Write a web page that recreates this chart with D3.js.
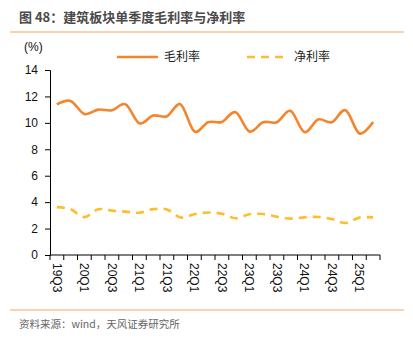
<!DOCTYPE html>
<html>
<head>
<meta charset="utf-8">
<script src="https://cdn.jsdelivr.net/npm/d3@7"></script>
<style>
  body { margin: 0; background: #fff; }
  svg { display: block; font-family: "Liberation Sans", Arial, sans-serif; }
  .cjk { font-family: "Noto Sans CJK SC", sans-serif; }
</style>
</head>
<body>
<div id="chart"></div>
<script>
// quarters 19Q3 .. 25Q2
var quarters = ['19Q3', '19Q4', '20Q1', '20Q2', '20Q3', '20Q4', '21Q1', '21Q2',
    '21Q3', '21Q4', '22Q1', '22Q2', '22Q3', '22Q4', '23Q1', '23Q2',
    '23Q3', '23Q4', '24Q1', '24Q2', '24Q3', '24Q4', '25Q1', '25Q2'];

// 毛利率 (%)
var grossMargin = [11.4, 11.65, 10.67, 11.0, 10.95, 11.4, 9.97, 10.55,
    10.5, 11.4, 9.35, 10.05, 10.07, 10.8, 9.35, 10.05,
    10.05, 10.9, 9.3, 10.25, 10.05, 10.95, 9.2, 10.07];

// 净利率 (%)
var netMargin = [3.62, 3.46, 2.87, 3.46, 3.36, 3.28, 3.2, 3.47,
    3.45, 2.84, 3.08, 3.22, 3.12, 2.78, 3.08, 3.1,
    2.9, 2.75, 2.85, 2.88, 2.72, 2.42, 2.83, 2.85];

var yTicks = [0, 2, 4, 6, 8, 10, 12, 14];

var W = 413, H = 343;
var margin = { top: 70, right: 33, bottom: 88, left: 50 },
    width = W - margin.left - margin.right,
    height = H - margin.top - margin.bottom;

var orange = '#f5852b', yellow = '#fdbd2d';

var svg = d3.select('#chart').append('svg')
    .attr('width', W)
    .attr('height', H);

// title and rules
svg.append('text')
    .attr('class', 'cjk')
    .attr('x', 19).attr('y', 22)
    .attr('font-size', 13).attr('font-weight', 'bold')
    .attr('fill', '#4a4a4a')
    .text('图 48：建筑板块单季度毛利率与净利率');

svg.append('line')
    .attr('x1', 10).attr('x2', 404).attr('y1', 32).attr('y2', 32)
    .attr('stroke', '#f6a55e').attr('stroke-width', 1.2);

svg.append('line')
    .attr('x1', 10).attr('x2', 404).attr('y1', 310).attr('y2', 310)
    .attr('stroke', '#f6a55e').attr('stroke-width', 1.2);

svg.append('text')
    .attr('class', 'cjk')
    .attr('x', 19).attr('y', 328)
    .attr('font-size', 10.5)
    .attr('fill', '#666')
    .text('资料来源：wind，天风证券研究所');

var g = svg.append('g')
    .attr('transform', `translate(${margin.left},${margin.top})`);

// scales
var x = d3.scaleBand().domain(quarters).range([0, width]);
var y = d3.scaleLinear().domain([0, 14]).range([height, 0]);

// Y axis
var yAxis = g.append('g')
    .call(d3.axisLeft(y).tickValues(yTicks).tickSize(5).tickPadding(7));
yAxis.selectAll('text').attr('font-size', 12).attr('fill', '#111');

// X axis: tick at every band edge, label every other quarter
var xAxis = g.append('g')
    .attr('transform', 'translate(0,' + height + ')');
xAxis.append('line')
    .attr('x1', 0).attr('x2', width)
    .attr('stroke', '#000');
var edges = quarters.map(function (q) { return x(q); }).concat([width]);
xAxis.selectAll('.tk')
    .data(edges)
    .enter().append('line')
    .attr('x1', function (d) { return d; })
    .attr('x2', function (d) { return d; })
    .attr('y1', 0).attr('y2', 5)
    .attr('stroke', '#000');
xAxis.selectAll('.lbl')
    .data(quarters.filter(function (q, i) { return i % 2 === 0; }))
    .enter().append('text')
    .attr('transform', function (d) {
        return 'translate(' + (x(d) + x.bandwidth() / 2 - 4) + ',8) rotate(90)';
    })
    .attr('font-size', 12)
    .attr('fill', '#111')
    .text(function (d) { return d; });
yAxis.select('.domain').attr('stroke', '#000');

yAxis.selectAll('.tick line').attr('stroke', '#000');

// smoothed lines
var line = d3.line()
    .x(function (d, i) { return x(quarters[i]) + x.bandwidth() / 2; })
    .y(function (d) { return y(d); })
    .curve(d3.curveCatmullRom.alpha(0));

g.append('path')
    .datum(grossMargin)
    .attr('d', line)
    .attr('fill', 'none')
    .attr('stroke', orange)
    .attr('stroke-width', 2.6);

g.append('path')
    .datum(netMargin)
    .attr('d', line)
    .attr('fill', 'none')
    .attr('stroke', yellow)
    .attr('stroke-width', 2.6)
    .attr('stroke-dasharray', '8,6');

// unit label
svg.append('text')
    .attr('x', 24).attr('y', 51)
    .attr('font-size', 12).attr('fill', '#111')
    .text('(%)');

// legend
var legend = [
    { name: '毛利率', color: orange, dash: null, x: 117 },
    { name: '净利率', color: yellow, dash: '8,6', x: 247 }
];
var lg = svg.selectAll('.legend')
    .data(legend)
    .enter().append('g')
    .attr('transform', function (d) { return 'translate(' + d.x + ',57)'; });
lg.append('line')
    .attr('x1', 0).attr('x2', 41)
    .attr('stroke', function (d) { return d.color; })
    .attr('stroke-width', 2.6)
    .attr('stroke-dasharray', function (d) { return d.dash; });
lg.append('text')
    .attr('class', 'cjk')
    .attr('x', 47).attr('y', 4)
    .attr('font-size', 12)
    .attr('fill', '#222')
    .text(function (d) { return d.name; });
</script>
</body>
</html>
